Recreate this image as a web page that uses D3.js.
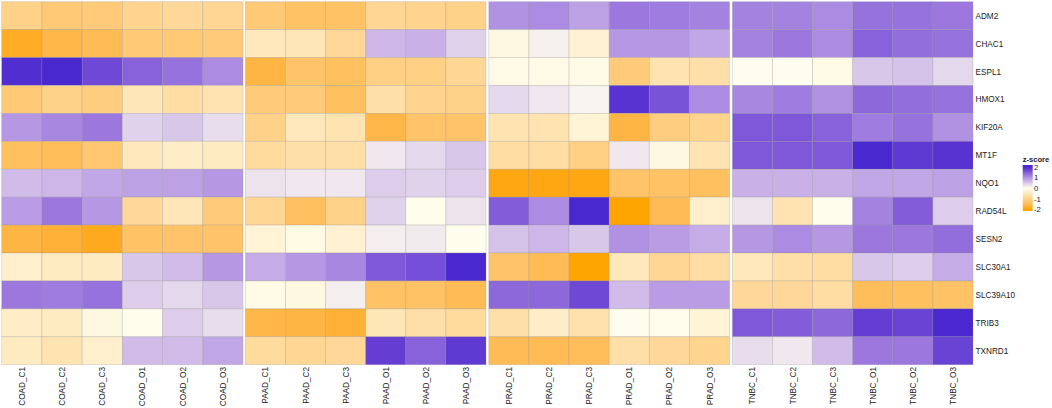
<!DOCTYPE html>
<html>
  <head>
    <meta charset="utf-8">
    <title>z-score heatmap</title>

    <!-- D3.js -->
    <script src="https://d3js.org/d3.v7.min.js"></script>
    <style>
      html, body { margin: 0; padding: 0; background: #fff; }
      text { font-family: "Liberation Sans", Arial, sans-serif; fill: #222; }
    </style>
  </head>

  <body>
    <svg id="canvas" width="1052" height="408" style="display:block"></svg>

    <script>
      var genes = ["ADM2", "CHAC1", "ESPL1", "HMOX1", "KIF20A", "MT1F", "NQO1", "RAD54L", "SESN2", "SLC30A1", "SLC39A10", "TRIB3", "TXNRD1"];
      var cancers = ["COAD", "PAAD", "PRAD", "TNBC"];
      var samples = ["C1", "C2", "C3", "O1", "O2", "O3"];
      var legendTicks = [2, 1, 0, -1, -2];

      // one array per gene, in sample order COAD, PAAD, PRAD, TNBC
      var ADM2 = [-1.0, -1.2, -1.15, -0.95, -0.85, -0.9, -1.2, -1.35, -1.35, -0.9, -0.95, -1.0, 1.0, 1.05, 0.85, 1.25, 1.2, 1.15, 1.15, 1.15, 1.05, 1.3, 1.3, 1.25];
      var CHAC1 = [-1.85, -1.6, -1.5, -1.2, -1.2, -1.15, -0.5, -0.55, -0.85, 0.65, 0.7, 0.4, -0.15, 0.12, -0.3, 0.95, 0.95, 0.8, 1.15, 1.25, 1.05, 1.45, 1.35, 1.3];
      var ESPL1 = [1.95, 2.05, 1.7, 1.45, 1.3, 1.05, -1.65, -1.3, -1.4, -1.05, -1.05, -0.9, -0.1, -0.1, -0.1, -1.15, -0.6, -0.7, -0.02, 0.02, -0.1, 0.5, 0.55, 0.35];
      var HMOX1 = [-1.2, -1.0, -1.1, -0.55, -0.75, -0.6, -1.15, -1.15, -1.4, -0.7, -0.95, -1.0, 0.35, 0.2, 0.1, 1.9, 1.6, 1.05, 1.1, 1.2, 1.0, 1.4, 1.35, 1.3];
      var KIF20A = [0.95, 1.1, 1.25, 0.4, 0.5, 0.3, -1.0, -0.5, -0.6, -1.6, -1.3, -1.3, -0.6, -0.6, -0.25, -1.65, -1.1, -0.95, 1.55, 1.55, 1.45, 1.2, 1.3, 1.0];
      var MT1F = [-1.4, -1.45, -1.25, -0.5, -0.4, -0.45, -0.8, -0.7, -0.7, 0.2, 0.35, 0.5, -0.75, -0.75, -1.05, 0.2, -0.15, -0.6, 1.55, 1.55, 1.55, 2.05, 1.85, 1.9];
      var NQO1 = [0.6, 0.65, 0.8, 0.85, 0.85, 0.95, 0.25, 0.2, 0.2, 0.45, 0.4, 0.45, -1.95, -1.95, -1.95, -1.3, -1.35, -1.4, 0.7, 0.7, 0.7, 0.8, 0.8, 0.85];
      var RAD54L = [0.9, 1.25, 0.95, -0.85, -0.55, -1.15, -0.9, -1.4, -1.0, 0.4, -0.05, 0.25, 1.5, 1.05, 2.05, -2.0, -1.5, -0.35, 0.25, -0.6, -0.03, 1.15, 1.5, 0.45];
      var SESN2 = [-1.65, -1.75, -1.9, -1.35, -1.3, -1.3, -0.25, -0.12, -0.3, 0.15, 0.18, -0.05, 0.55, 0.65, 0.5, 1.0, 0.9, 0.75, 0.95, 1.05, 0.95, 1.25, 1.25, 1.35];
      var SLC30A1 = [-0.35, -0.45, -0.45, 0.5, 0.6, 0.95, 0.75, 0.95, 1.1, 1.55, 1.65, 2.0, -1.3, -1.5, -2.0, -0.5, -0.9, -0.75, -0.5, -0.7, -0.75, 0.5, 0.45, 0.75];
      var SLC39A10 = [1.25, 1.2, 1.3, 0.45, 0.35, 0.5, -0.1, -0.15, 0.15, -1.35, -1.35, -1.5, 1.4, 1.4, 1.7, 0.6, 0.9, 0.9, -0.85, -0.85, -0.75, -1.45, -1.4, -1.35];
      var TRIB3 = [-0.4, -0.45, -0.15, -0.03, 0.45, 0.3, -1.6, -1.65, -1.75, -0.55, -0.7, -0.8, -0.7, -0.4, -0.65, -0.02, -0.05, -0.25, 1.55, 1.5, 1.4, 1.8, 1.75, 2.1];
      var TXNRD1 = [-0.45, -0.6, -0.35, 0.6, 0.6, 0.8, -0.8, -0.9, -0.85, 1.8, 1.45, 1.85, -1.5, -1.5, -1.45, -0.7, -0.85, -0.95, 0.3, 0.2, 0.6, 1.25, 1.25, 1.75];

      var matrix = [ADM2, CHAC1, ESPL1, HMOX1, KIF20A, MT1F, NQO1, RAD54L, SESN2, SLC30A1, SLC39A10, TRIB3, TXNRD1];

      var panelRanges = [[1.7, 243], [245.4, 486], [488.8, 729.6], [732.4, 973]];

      var svg = d3.select("#canvas");

      var y = d3.scaleBand().domain(genes).range([1.7, 364.7]);

      var color = d3.scaleLinear()
        .domain([-2, 0, 2])
        .range(["#ffa500", "#fffff0", "#4a28cf"])
        .interpolate(d3.interpolateLab)
        .clamp(true);

      cancers.forEach(function(cancer, p){
        var names = samples.map(function(s){ return cancer + "_" + s; });
        var x = d3.scaleBand().domain(names).range(panelRanges[p]);
        var panel = svg.append("g");

        genes.forEach(function(gene, r){
          panel.selectAll(null)
            .data(names)
            .enter()
            .append("rect")
            .attr("x", function(d){ return x(d); })
            .attr("y", y(gene))
            .attr("width", x.bandwidth())
            .attr("height", y.bandwidth())
            .style("fill", function(d, i){ return color(matrix[r][p * 6 + i]); })
            .style("stroke", "#8c8c8c")
            .style("stroke-opacity", 0.3)
            .style("stroke-width", 0.8);
        });

        panel.selectAll(null)
          .data(names)
          .enter()
          .append("text")
          .attr("transform", function(d){
            return "translate(" + (x(d) + x.bandwidth() / 2 + 3) + ",367) rotate(-90)";
          })
          .style("text-anchor", "end")
          .style("font-size", "8.2px")
          .text(function(d){ return d; });
      });

      svg.append("g").selectAll("text")
        .data(genes)
        .enter()
        .append("text")
        .attr("x", 975.5)
        .attr("y", function(d){ return y(d) + y.bandwidth() / 2 + 3; })
        .style("font-size", "8.2px")
        .text(function(d){ return d; });

      // legend
      var legendY = d3.scaleLinear().domain([2, -2]).range([167, 209.5]);
      var defs = svg.append("defs");
      var grad = defs.append("linearGradient")
        .attr("id", "zgrad")
        .attr("gradientUnits", "userSpaceOnUse")
        .attr("x1", 0).attr("x2", 0)
        .attr("y1", legendY(2)).attr("y2", legendY(-2));
      d3.range(0, 1.0001, 0.1).forEach(function(t){
        grad.append("stop")
          .attr("offset", t)
          .attr("stop-color", color(2 - 4 * t));
      });

      svg.append("text")
        .attr("x", 1022.7)
        .attr("y", 161.5)
        .style("font-size", "7.6px")
        .style("font-weight", "bold")
        .text("z-score");

      svg.append("rect")
        .attr("x", 1022.7)
        .attr("y", 165)
        .attr("width", 10)
        .attr("height", 46)
        .style("fill", "url(#zgrad)");

      svg.append("g").selectAll("text")
        .data(legendTicks)
        .enter()
        .append("text")
        .attr("x", 1034)
        .attr("y", function(d){ return legendY(d) + 2.8; })
        .style("font-size", "7.8px")
        .text(function(d){ return d; });
    </script>
  </body>
</html>
